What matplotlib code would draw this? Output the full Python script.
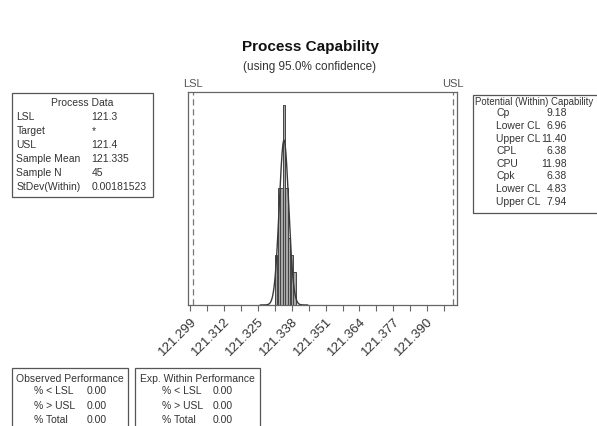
import matplotlib
matplotlib.use("Agg")
import matplotlib.pyplot as plt
import numpy as np
from matplotlib.patches import Rectangle

plt.rcParams["font.family"] = ["Liberation Sans", "DejaVu Sans"]

LSL = 121.3
USL = 121.4
MEAN = 121.335
STDEV = 0.00181523
N = 45

# histogram
BIN_START = 121.3315
BIN_WIDTH = 0.001
COUNTS = [3, 7, 7, 12, 7, 4, 3, 2]

TICKS = [121.299, 121.312, 121.325, 121.338, 121.351, 121.364, 121.377, 121.390]

PROCESS_LABELS = ["LSL", "Target", "USL", "Sample Mean", "Sample N", "StDev(Within)"]
PROCESS_VALUES = ["121.3", "*", "121.4", "121.335", "45", "0.00181523"]

POTENTIAL_LABELS = ["Cp", "Lower CL", "Upper CL", "CPL", "CPU", "Cpk", "Lower CL", "Upper CL"]
POTENTIAL_VALUES = ["9.18", "6.96", "11.40", "6.38", "11.98", "6.38", "4.83", "7.94"]

PERF_LABELS = ["% < LSL", "% > USL", "% Total"]
OBSERVED_VALUES = ["0.00", "0.00", "0.00"]
EXPECTED_VALUES = ["0.00", "0.00", "0.00"]

TXT = "#333333"
EDGE = "#555555"

W, H = 597, 426
fig = plt.figure(figsize=(W / 100, H / 100), dpi=100)


def fx(px):
    return px / W


def fy(py):
    return 1 - py / H


ax = fig.add_axes([fx(188), fy(305), fx(457) - fx(188), fy(92) - fy(305)])

edges = BIN_START + BIN_WIDTH * np.arange(len(COUNTS) + 1)
density = np.array(COUNTS) / (N * BIN_WIDTH)
ax.bar(edges[:-1], density, width=BIN_WIDTH, align="edge",
       facecolor="#a8a8a8", edgecolor="#444444", linewidth=0.7, zorder=2)

xs = np.linspace(MEAN - 5 * STDEV, MEAN + 5 * STDEV, 300)
pdf = np.exp(-0.5 * ((xs - MEAN) / STDEV) ** 2) / (STDEV * np.sqrt(2 * np.pi))
ax.plot(xs, pdf, color="#3a3a3a", linewidth=1.0, zorder=3)

for v, name in [(LSL, "LSL"), (USL, "USL")]:
    ax.axvline(v, color="#777777", linestyle=(0, (5, 3)), linewidth=0.9, zorder=1)
    ax.text(v, 1.012, name, transform=ax.get_xaxis_transform(), ha="center", va="bottom",
            fontsize=8, color="#555555")

x_per_px = (USL - LSL) / 260
ax.set_xlim(LSL - 5 * x_per_px, USL + 4 * x_per_px)
ax.set_ylim(0, density.max() * 213 / 200)
ax.set_yticks([])

minor = [t + 0.0065 for t in TICKS]
ax.set_xticks(TICKS)
ax.set_xticks(minor, minor=True)
ax.set_xticklabels([f"{t:.3f}" for t in TICKS], rotation=45, ha="right", va="top",
                   rotation_mode="anchor", fontsize=9.5, color=TXT)
ax.tick_params(axis="x", which="both", direction="out", length=4, color="#666666", width=0.8)
for s in ax.spines.values():
    s.set_color("#666666")
    s.set_linewidth(0.9)

fig.text(fx(310), fy(47), "Process Capability", ha="center", va="center",
         fontsize=11, fontweight="bold", color="#111111")
fig.text(fx(310), fy(67), "(using 95.0% confidence)", ha="center", va="center",
         fontsize=8.5, color=TXT)


def box(x0, y0, x1, y1):
    fig.patches.append(Rectangle((fx(x0), fy(y1)), fx(x1) - fx(x0), fy(y0) - fy(y1),
                                 transform=fig.transFigure, fill=False,
                                 edgecolor=EDGE, linewidth=0.9))


FS = 7.5

# Process Data
box(12, 93, 153, 197)
fig.text(fx(82), fy(102.7), "Process Data", ha="center", va="center", fontsize=FS, color=TXT)
for i, (lab, val) in enumerate(zip(PROCESS_LABELS, PROCESS_VALUES)):
    yy = fy(116.7 + i * 14)
    fig.text(fx(16.5), yy, lab, ha="left", va="center", fontsize=FS, color=TXT)
    fig.text(fx(91.5), yy, val, ha="left", va="center", fontsize=FS, color=TXT)

# Potential (Within) Capability, box runs past the right edge
box(473, 95, 640, 213)
fig.text(fx(475), fy(101.7), "Potential (Within) Capability", ha="left", va="center",
         fontsize=6.9, color=TXT)
for i, (lab, val) in enumerate(zip(POTENTIAL_LABELS, POTENTIAL_VALUES)):
    yy = fy(113.5 + i * 12.6)
    fig.text(fx(496.5), yy, lab, ha="left", va="center", fontsize=FS, color=TXT)
    fig.text(fx(567), yy, val, ha="right", va="center", fontsize=FS, color=TXT)

# Observed / expected performance
box(12, 368, 128, 440)
fig.text(fx(70), fy(378.5), "Observed Performance", ha="center", va="center", fontsize=FS, color=TXT)
box(135, 368, 260, 440)
fig.text(fx(197.5), fy(378.5), "Exp. Within Performance", ha="center", va="center", fontsize=FS, color=TXT)
for i, lab in enumerate(PERF_LABELS):
    yy = fy(391.5 + i * 14.3)
    fig.text(fx(34), yy, lab, ha="left", va="center", fontsize=FS, color=TXT)
    fig.text(fx(86.5), yy, OBSERVED_VALUES[i], ha="left", va="center", fontsize=FS, color=TXT)
    fig.text(fx(161.5), yy, lab, ha="left", va="center", fontsize=FS, color=TXT)
    fig.text(fx(213), yy, EXPECTED_VALUES[i], ha="left", va="center", fontsize=FS, color=TXT)

fig.savefig("out.png", dpi=100)
